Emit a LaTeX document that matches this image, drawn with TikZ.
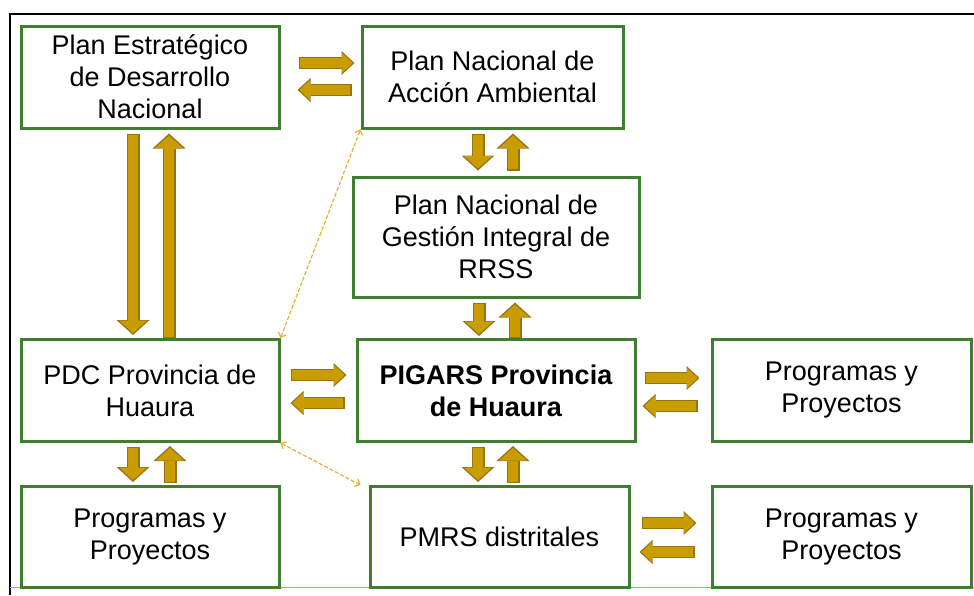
\documentclass[tikz,border=0pt]{standalone}
\usepackage{fontspec}
\setsansfont{Liberation Sans}
\usepackage{xcolor}
\usepackage{tikz}
\usetikzlibrary{arrows.meta, positioning, calc}

\definecolor{boxgreen}{RGB}{64,125,48}
\definecolor{arrowgold}{RGB}{201,156,0}
\definecolor{arrowedge}{RGB}{150,115,20}
\definecolor{linkgold}{RGB}{228,176,50}
\definecolor{framegold}{RGB}{215,165,40}

\begin{document}
\begin{tikzpicture}[x=1pt, y=-1pt, font=\sffamily\fontsize{27}{32}\selectfont]
    \tikzstyle{box}=[rectangle, draw=boxgreen, line width=3pt, align=center, inner sep=0pt, minimum height=102pt]
    \tikzstyle{hfat}=[draw=arrowgold, line width=9.6pt, shorten <=1.2pt, shorten >=1.8pt, -{Triangle[length=10.5pt, width=19.5pt, line width=0pt]},
        preaction={draw=arrowedge, line width=12pt, shorten <=0pt, shorten >=0pt, -{Triangle[length=13pt, width=24pt, line width=0pt]}}]
    \tikzstyle{vfat}=[draw=arrowgold, line width=10.5pt, shorten <=1.2pt, shorten >=2pt, -{Triangle[length=12.5pt, width=28pt, line width=0pt]},
        preaction={draw=arrowedge, line width=13pt, shorten <=0pt, shorten >=0pt, -{Triangle[length=15pt, width=33pt, line width=0pt]}}]
    \tikzstyle{link}=[draw=linkgold, line width=1.2pt, dash pattern=on 4pt off 2pt, {Straight Barb[length=4pt, width=8pt]}-{Straight Barb[length=4pt, width=8pt]}]

    \useasboundingbox (0,0) rectangle (974,595);
    \draw[line width=2.3pt] (10,595) -- (10,14) -- (974,14);
    \draw[framegold, line width=1pt] (10,587) -- (974,587);

    \node[box, minimum width=258pt] (ped) at (150,77) {Plan Estratégico\\de Desarrollo\\Nacional};
    \node[box, minimum width=261pt] (pnaa) at (492.5,77) {Plan Nacional de\\Acción Ambiental};
    \node[box, minimum width=286pt, minimum height=120pt] (pngirs) at (496,237) {Plan Nacional de\\Gestión Integral de\\RRSS};
    \node[box, minimum width=258pt] (pdc) at (150,390.5) {PDC Provincia de\\Huaura};
    \node[box, minimum width=278pt, font=\sffamily\bfseries\fontsize{27}{32}\selectfont] (pigars) at (496,390.5) {PIGARS Provincia\\de Huaura};
    \node[box, minimum width=259pt] (prog1) at (841.5,390.5) {Programas y\\Proyectos};
    \node[box, minimum width=258pt, minimum height=101pt] (prog2) at (150,537) {Programas y\\Proyectos};
    \node[box, minimum width=259pt, minimum height=101pt] (pmrs) at (499.5,537) {PMRS distritales};
    \node[box, minimum width=259pt, minimum height=101pt] (prog3) at (841.5,537) {Programas y\\Proyectos};

    \draw[hfat] ([shift={(18,-14)}]ped.east) -- ([shift={(-6,-14)}]pnaa.west);
    \draw[hfat] ([shift={(-9,13)}]pnaa.west) -- ([shift={(17,13)}]ped.east);
    \draw[vfat] ([shift={(-17,4)}]ped.south) -- ([shift={(-17,-3)}]pdc.north);
    \draw[vfat] ([shift={(19,0)}]pdc.north) -- ([shift={(19,4)}]ped.south);

    \draw[vfat] ([shift={(-14.5,4)}]pnaa.south) -- ([shift={(-18,-5)}]pngirs.north);
    \draw[vfat] ([shift={(17,-5)}]pngirs.north) -- ([shift={(20.5,4)}]pnaa.south);
    \draw[vfat] ([shift={(-17,4)}]pngirs.south) -- ([shift={(-17,-2)}]pigars.north);
    \draw[vfat] ([shift={(19,0)}]pigars.north) -- ([shift={(19,4)}]pngirs.south);
    \draw[vfat] ([shift={(-18,4)}]pigars.south) -- ([shift={(-21.5,-3)}]pmrs.north);
    \draw[vfat] ([shift={(13.5,-2)}]pmrs.north) -- ([shift={(17,3)}]pigars.south);
    \draw[vfat] ([shift={(-17,4)}]pdc.south) -- ([shift={(-17,-3)}]prog2.north);
    \draw[vfat] ([shift={(20,-2)}]prog2.north) -- ([shift={(20,3)}]pdc.south);

    \draw[hfat] ([shift={(10,-15.5)}]pdc.east) -- ([shift={(-9,-15.5)}]pigars.west);
    \draw[hfat] ([shift={(-11,12.5)}]pigars.west) -- ([shift={(10,12.5)}]pdc.east);
    \draw[hfat] ([shift={(8,-12.5)}]pigars.east) -- ([shift={(-11,-12.5)}]prog1.west);
    \draw[hfat] ([shift={(-13,15.5)}]prog1.west) -- ([shift={(6,15.5)}]pigars.east);
    \draw[hfat] ([shift={(11,-14)}]pmrs.east) -- ([shift={(-14,-14)}]prog3.west);
    \draw[hfat] ([shift={(-16,15)}]prog3.west) -- ([shift={(9,15)}]pmrs.east);

    \draw[link] (pdc.north east) -- (pnaa.south west);
    \draw[link] (pdc.south east) -- ([xshift=-8pt]pmrs.north west);
\end{tikzpicture}
\end{document}
